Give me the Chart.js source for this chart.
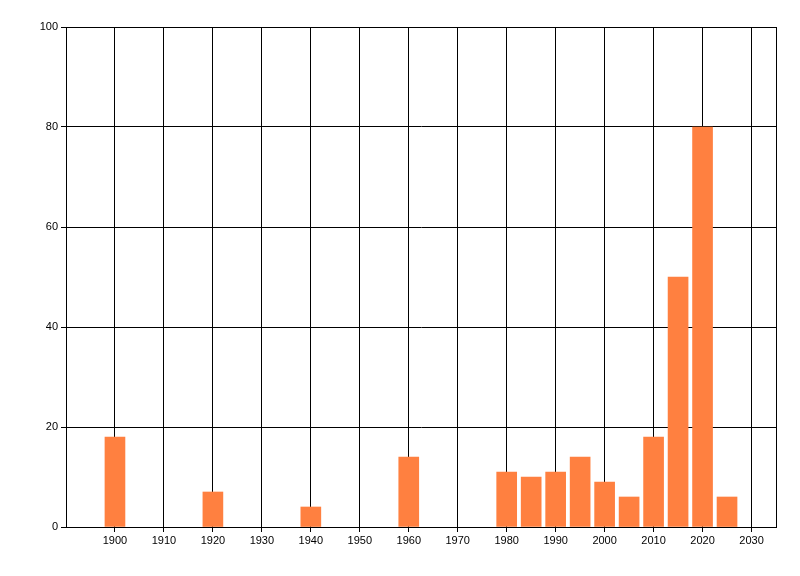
<!DOCTYPE html>
<html>
<head>
<meta charset="utf-8">
<script src="https://cdn.jsdelivr.net/npm/chart.js@4/dist/chart.umd.min.js"></script>
<style>
html,body{margin:0;padding:0;background:#fff;}
#wrap{width:800px;height:576px;}
</style>
</head>
<body>
<div id="wrap"><canvas id="c" width="800" height="576"></canvas></div>
<script>
const years = [1900, 1920, 1940, 1960, 1980, 1985, 1990, 1995, 2000, 2005, 2010, 2015, 2020, 2025];
const counts = [18, 7, 4, 14, 11, 10, 11, 14, 9, 6, 18, 50, 80, 6];
const xTicks = [1900, 1910, 1920, 1930, 1940, 1950, 1960, 1970, 1980, 1990, 2000, 2010, 2020, 2030];
const yTicks = [0, 20, 40, 60, 80, 100];

const frame = {
  id: 'frame',
  afterDraw(chart) {
    const a = chart.chartArea, ctx = chart.ctx;
    ctx.save();
    ctx.strokeStyle = '#000';
    ctx.lineWidth = 1;
    ctx.strokeRect(Math.round(a.left) + 0.5, Math.round(a.top) + 0.5, Math.round(a.right - a.left), Math.round(a.bottom - a.top));
    ctx.restore();
  }
};

new Chart(document.getElementById('c'), {
  type: 'bar',
  data: {
    datasets: [{
      data: years.map((y, i) => ({ x: y, y: counts[i] })),
      backgroundColor: 'rgb(255,128,64)',
      borderWidth: 0,
      barThickness: 20
    }]
  },
  options: {
    responsive: false,
    animation: false,
    devicePixelRatio: 1,
    layout: { padding: { left: 0, right: 24, top: 27, bottom: 0 } },
    plugins: { legend: { display: false }, tooltip: { enabled: false } },
    scales: {
      x: {
        type: 'linear',
        min: 1890,
        max: 2035,
        offset: false,
        afterBuildTicks(s) { s.ticks = xTicks.map(v => ({ value: v })); },
        afterFit(s) { s.height = 49; },
        grid: { color: '#000', lineWidth: 1, tickLength: 5, drawTicks: true, offset: false },
        border: { display: true, color: '#000' },
        ticks: {
          color: '#000',
          padding: 2,
          maxRotation: 0,
          autoSkip: false,
          font: { family: 'Liberation Sans', size: 11 },
          callback: v => String(v)
        }
      },
      y: {
        min: 0,
        max: 100,
        afterBuildTicks(s) { s.ticks = yTicks.map(v => ({ value: v })); },
        afterFit(s) { s.width = 66; },
        grid: { color: '#000', lineWidth: 1, tickLength: 5, drawTicks: true },
        border: { display: true, color: '#000' },
        ticks: {
          color: '#000',
          padding: 3,
          font: { family: 'Liberation Sans', size: 11 }
        }
      }
    }
  },
  plugins: [frame]
});
</script>
</body>
</html>
